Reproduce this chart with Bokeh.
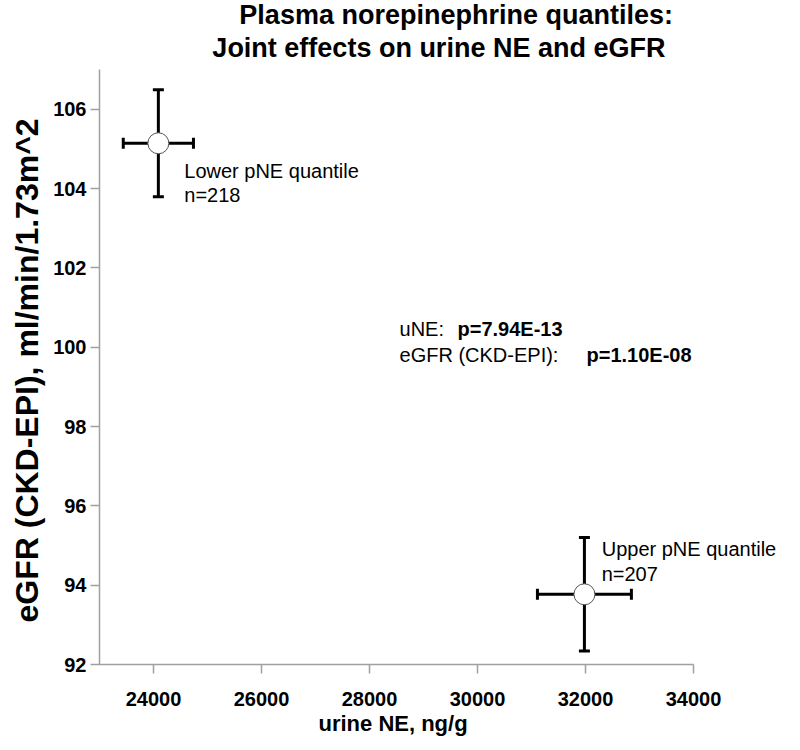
from bokeh.plotting import figure
from bokeh.models import ColumnDataSource, FixedTicker, Range1d, LabelSet, Title
from bokeh.core.properties import value
from bokeh.embed import file_html
from bokeh.resources import INLINE

# ---- data ----
title_lines = ["Plasma norepinephrine quantiles:", "Joint effects on  urine NE and eGFR"]
x_label = "urine NE, ng/g"
y_label = "eGFR (CKD-EPI), ml/min/1.73m^2"
groups = ["Lower pNE quantile", "Upper pNE quantile"]
n_counts = ["n=218", "n=207"]
une_mean = [24090, 31980]
une_err = [650, 870]
egfr_mean = [105.14, 93.77]
egfr_err = [1.35, 1.43]
x_ticks = [24000, 26000, 28000, 30000, 32000, 34000]
y_ticks = [92, 94, 96, 98, 100, 102, 104, 106]
stat_names = ["uNE: ", "eGFR (CKD-EPI): "]
stat_values = ["p=7.94E-13", "p=1.10E-08"]

FONT = "Liberation Sans"

# axis extents shown; the plotting window is extended right and up so the
# annotation texts and the title can sit outside the axes
X_AXIS = (23000, 34000)
Y_AXIS = (92, 107)
PX_PER_X = 594 / (X_AXIS[1] - X_AXIS[0])
PX_PER_Y = 595 / (Y_AXIS[1] - Y_AXIS[0])
FRAME_W = 700
FRAME_H = 664
X_END = X_AXIS[0] + FRAME_W / PX_PER_X
Y_END = Y_AXIS[0] + FRAME_H / PX_PER_Y

src = ColumnDataSource(dict(
    x=une_mean, y=egfr_mean,
    x0=[m - e for m, e in zip(une_mean, une_err)],
    x1=[m + e for m, e in zip(une_mean, une_err)],
    y0=[m - e for m, e in zip(egfr_mean, egfr_err)],
    y1=[m + e for m, e in zip(egfr_mean, egfr_err)],
))

p = figure(output_backend="svg", toolbar_location=None,
           x_range=Range1d(X_AXIS[0], X_END), y_range=Range1d(Y_AXIS[0], Y_END),
           frame_width=FRAME_W, frame_height=FRAME_H,
           min_border_left=98, min_border_right=0, min_border_top=0, min_border_bottom=80)

p.outline_line_color = None
p.grid.visible = False
p.background_fill_color = "white"

for ax in (p.xaxis[0], p.yaxis[0]):
    ax.axis_line_color = "#a0a0a0"
    ax.axis_line_width = 1.5
    ax.major_tick_line_color = "#a0a0a0"
    ax.major_tick_line_width = 1.5
    ax.major_tick_out = 9
    ax.major_tick_in = 0
    ax.minor_tick_line_color = None
    ax.major_label_text_font = FONT
    ax.major_label_text_font_style = "bold"
    ax.major_label_text_font_size = "20px"
    ax.major_label_text_color = "black"

p.xaxis.bounds = X_AXIS
p.yaxis.bounds = Y_AXIS
p.xaxis.ticker = FixedTicker(ticks=x_ticks)
p.yaxis.ticker = FixedTicker(ticks=y_ticks)
p.xaxis.major_label_standoff = 18
p.yaxis.major_label_standoff = 4

# axis titles, positioned along the drawn axis extents
xt = Title(text=x_label, align="left", offset=219, standoff=0,
           text_font=FONT, text_font_size="22px", text_font_style="bold", text_color="black")
p.add_layout(xt, "below")
yt = Title(text=y_label, align="left", offset=42, standoff=12,
           text_font=FONT, text_font_size="32px", text_font_style="bold", text_color="black")
p.add_layout(yt, "left")

# error bars
p.segment(x0="x0", y0="y", x1="x1", y1="y", source=src, line_color="black", line_width=3)
p.segment(x0="x", y0="y0", x1="x", y1="y1", source=src, line_color="black", line_width=3)
p.scatter(x="x", y="y0", source=src, marker="dash", size=11, line_color="black", line_width=3)
p.scatter(x="x", y="y1", source=src, marker="dash", size=11, line_color="black", line_width=3)
p.scatter(x="x0", y="y", source=src, marker="dash", size=11, angle=1.5708, line_color="black", line_width=3)
p.scatter(x="x1", y="y", source=src, marker="dash", size=11, angle=1.5708, line_color="black", line_width=3)
p.scatter(x="x", y="y", source=src, marker="circle", size=21, fill_color="white",
          line_color="#555555", line_width=1)

# chart title (two lines)
title_src = ColumnDataSource(dict(x=[25590, 25090], y=[108.37, 107.53], t=title_lines))
p.add_layout(LabelSet(x="x", y="y", text="t", source=title_src,
                      text_font=value(FONT), text_font_size=value("27px"),
                      text_font_style="bold", text_baseline="middle", text_align="left",
                      text_color="black"))

# group labels
lab_src = ColumnDataSource(dict(
    x=[24570, 32300], y1=[104.44, 94.90], y2=[103.83, 94.27],
    g=groups, n=n_counts))
for ycol, tcol in (("y1", "g"), ("y2", "n")):
    p.add_layout(LabelSet(x="x", y=ycol, text=tcol, source=lab_src,
                          text_font=value(FONT), text_font_size=value("20px"),
                          text_baseline="middle", text_align="left", text_color="black"))

# statistics
st_src = ColumnDataSource(dict(
    x=[28556, 28556], bx=[29630, 32019], y=[100.45, 99.79],
    name=stat_names, val=stat_values))
p.add_layout(LabelSet(x="x", y="y", text="name", source=st_src,
                      text_font=value(FONT), text_font_size=value("20px"),
                      text_baseline="middle", text_align="left", text_color="black"))
p.add_layout(LabelSet(x="bx", y="y", text="val", source=st_src,
                      text_font=value(FONT), text_font_size=value("20px"),
                      text_font_style="bold", text_baseline="middle", text_align="left",
                      text_color="black"))

open("out.html", "w").write(file_html(p, INLINE))
